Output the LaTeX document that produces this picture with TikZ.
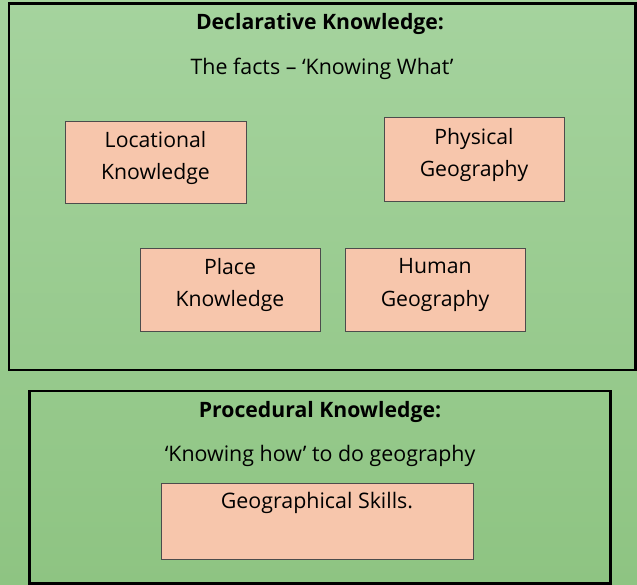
\documentclass[tikz,border=0pt]{standalone}
\usepackage{fontspec}
\setmainfont{Open Sans}
\begin{document}
\begin{tikzpicture}[x=1pt,y=-1pt,
  panel/.style={draw=black,line width=2.2pt},
  topic/.style={draw=black!70,line width=0.6pt,fill=salmon},
  lbl/.style={font=\fontsize{21.2}{32.5}\selectfont,align=center,inner sep=0pt},
  ttl/.style={font=\fontsize{21.2}{25}\selectfont\bfseries,inner sep=0pt},
  sub/.style={font=\fontsize{21.4}{25}\selectfont,inner sep=0pt}]
\definecolor{salmon}{RGB}{247,198,172}
\definecolor{gtop}{RGB}{165,211,158}
\definecolor{gbot}{RGB}{142,196,130}
\useasboundingbox (0,0) rectangle (637,585);
\shade[top color=gtop,bottom color=gbot] (0,0) rectangle (637,585);
% panels
\draw[panel] (9,3.5) rectangle (635.5,370);
\draw[panel] (29.5,391) rectangle (610.5,583.5);
\node[ttl] (dtitle) at (320,24) {Declarative Knowledge:};
\node[sub] (dsub) at (322,69) {The facts – ‘Knowing What’};
\node[ttl] (ptitle) at (320,412) {Procedural Knowledge:};
\node[sub] (psub) at (320,456) {‘Knowing how’ to do geography};
% topic boxes
\draw[topic] (65.5,121) rectangle (246,203);
\node[lbl] (loc) at (155.5,158) {Locational\\Knowledge};
\draw[topic] (384,117) rectangle (564,201);
\node[lbl] (phy) at (474,155) {Physical\\Geography};
\draw[topic] (140,248) rectangle (320,331);
\node[lbl] (pla) at (230,285) {Place\\Knowledge};
\draw[topic] (345,248) rectangle (525,331);
\node[lbl] (hum) at (435,285) {Human\\Geography};
\draw[topic] (161,483) rectangle (473,559);
\node[sub] (geo) at (317,503) {Geographical Skills.};
\end{tikzpicture}
\end{document}
